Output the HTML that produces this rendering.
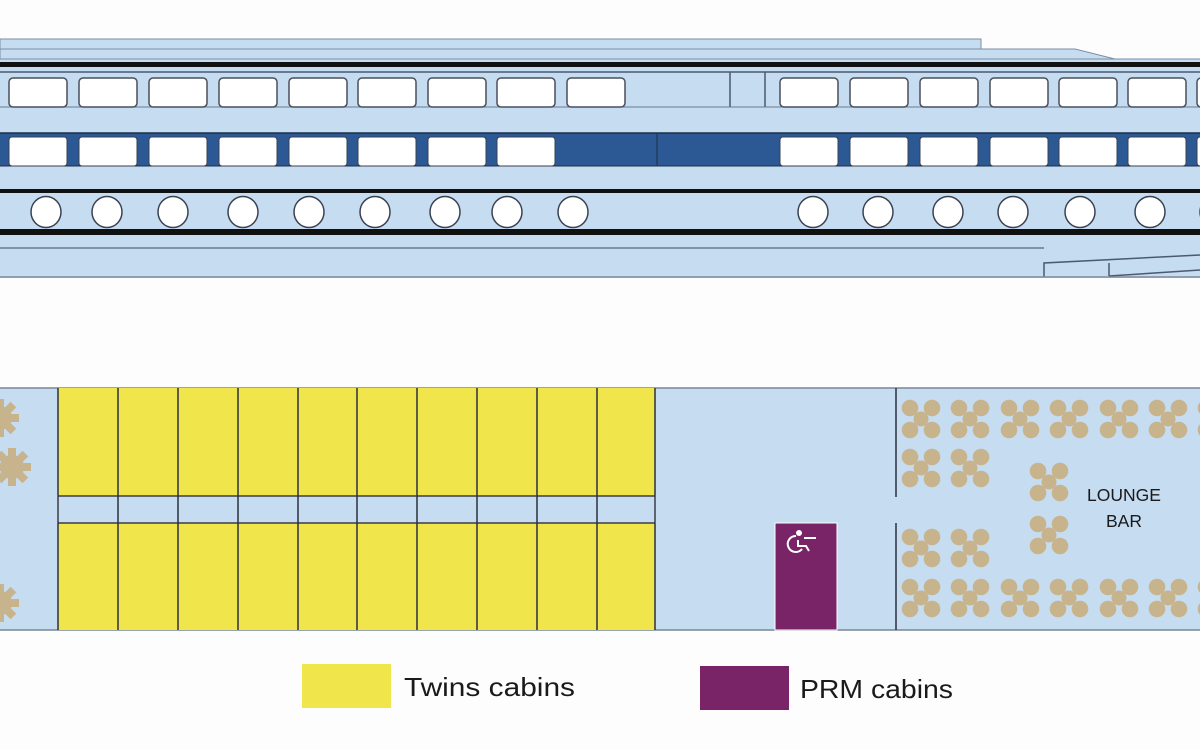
<!DOCTYPE html>
<html><head><meta charset="utf-8"><style>
html,body{margin:0;padding:0;background:#fdfdfd;}
svg{display:block;}
text{font-family:"Liberation Sans",sans-serif;}
</style></head><body>
<svg width="1200" height="750" viewBox="0 0 1200 750" xmlns="http://www.w3.org/2000/svg">
<defs>
<g id="tbl" fill="#c7b48c">
 <circle cx="-11" cy="-11" r="8.3"/><circle cx="11" cy="-11" r="8.3"/>
 <circle cx="-11" cy="11" r="8.3"/><circle cx="11" cy="11" r="8.3"/>
 <circle cx="0" cy="0" r="7.5"/>
</g>
<g id="gear" fill="#c7b48c">
 <circle r="12"/>
 <rect x="-4" y="-19" width="8" height="8"/><rect x="-4" y="11" width="8" height="8"/>
 <rect x="-19" y="-4" width="8" height="8"/><rect x="11" y="-4" width="8" height="8"/>
 <rect x="-4" y="-19" width="8" height="8" transform="rotate(45)"/><rect x="-4" y="11" width="8" height="8" transform="rotate(45)"/>
 <rect x="-19" y="-4" width="8" height="8" transform="rotate(45)"/><rect x="11" y="-4" width="8" height="8" transform="rotate(45)"/>
</g>
</defs>

<!-- SHIP PROFILE -->
<rect x="0" y="39" width="981" height="10" fill="#c6dcf1" stroke="#7d8fa3" stroke-width="1"/>
<polygon points="0,49 1075,49 1115,59 0,59" fill="#c6dcf1" stroke="#7d8fa3" stroke-width="1"/>
<rect x="0" y="59" width="1200" height="219" fill="#c6dcf1"/>
<line x1="0" y1="59" x2="1200" y2="59" stroke="#7d8fa3"/>
<rect x="0" y="62" width="1200" height="5" fill="#111"/>
<line x1="0" y1="72" x2="1200" y2="72" stroke="#4a5a70" stroke-width="1.5"/>
<line x1="730" y1="72" x2="730" y2="107" stroke="#4a5a70" stroke-width="1.5"/>
<line x1="765" y1="72" x2="765" y2="107" stroke="#4a5a70" stroke-width="1.5"/>
<line x1="0" y1="107" x2="1200" y2="107" stroke="#6a7a90" stroke-width="1"/>
<g fill="#fff" stroke="#4a4f5a" stroke-width="1.5">
 <rect x="9" y="78" width="58" height="29" rx="4"/>
 <rect x="79" y="78" width="58" height="29" rx="4"/>
 <rect x="149" y="78" width="58" height="29" rx="4"/>
 <rect x="219" y="78" width="58" height="29" rx="4"/>
 <rect x="289" y="78" width="58" height="29" rx="4"/>
 <rect x="358" y="78" width="58" height="29" rx="4"/>
 <rect x="428" y="78" width="58" height="29" rx="4"/>
 <rect x="497" y="78" width="58" height="29" rx="4"/>
 <rect x="567" y="78" width="58" height="29" rx="4"/>
 <rect x="780" y="78" width="58" height="29" rx="4"/>
 <rect x="850" y="78" width="58" height="29" rx="4"/>
 <rect x="920" y="78" width="58" height="29" rx="4"/>
 <rect x="990" y="78" width="58" height="29" rx="4"/>
 <rect x="1059" y="78" width="58" height="29" rx="4"/>
 <rect x="1128" y="78" width="58" height="29" rx="4"/>
 <rect x="1197" y="78" width="58" height="29" rx="4"/>
</g>
<rect x="0" y="133" width="1200" height="33" fill="#2c5893"/>
<line x1="0" y1="133" x2="1200" y2="133" stroke="#1d2f4a" stroke-width="1.5"/>
<line x1="0" y1="166" x2="1200" y2="166" stroke="#1d2f4a" stroke-width="1"/>
<line x1="657" y1="133" x2="657" y2="166" stroke="#1d2f4a" stroke-width="1"/>
<g fill="#fff" stroke="#3a4050" stroke-width="1">
 <rect x="9" y="137" width="58" height="29" rx="3"/>
 <rect x="79" y="137" width="58" height="29" rx="3"/>
 <rect x="149" y="137" width="58" height="29" rx="3"/>
 <rect x="219" y="137" width="58" height="29" rx="3"/>
 <rect x="289" y="137" width="58" height="29" rx="3"/>
 <rect x="358" y="137" width="58" height="29" rx="3"/>
 <rect x="428" y="137" width="58" height="29" rx="3"/>
 <rect x="497" y="137" width="58" height="29" rx="3"/>
 <rect x="780" y="137" width="58" height="29" rx="3"/>
 <rect x="850" y="137" width="58" height="29" rx="3"/>
 <rect x="920" y="137" width="58" height="29" rx="3"/>
 <rect x="990" y="137" width="58" height="29" rx="3"/>
 <rect x="1059" y="137" width="58" height="29" rx="3"/>
 <rect x="1128" y="137" width="58" height="29" rx="3"/>
 <rect x="1197" y="137" width="58" height="29" rx="3"/>
</g>
<rect x="0" y="189" width="1200" height="4" fill="#111"/>
<g fill="#fff" stroke="#3a4050" stroke-width="1.5">
 <ellipse cx="46" cy="212" rx="15" ry="15.5"/>
 <ellipse cx="107" cy="212" rx="15" ry="15.5"/>
 <ellipse cx="173" cy="212" rx="15" ry="15.5"/>
 <ellipse cx="243" cy="212" rx="15" ry="15.5"/>
 <ellipse cx="309" cy="212" rx="15" ry="15.5"/>
 <ellipse cx="375" cy="212" rx="15" ry="15.5"/>
 <ellipse cx="445" cy="212" rx="15" ry="15.5"/>
 <ellipse cx="507" cy="212" rx="15" ry="15.5"/>
 <ellipse cx="573" cy="212" rx="15" ry="15.5"/>
 <ellipse cx="813" cy="212" rx="15" ry="15.5"/>
 <ellipse cx="878" cy="212" rx="15" ry="15.5"/>
 <ellipse cx="948" cy="212" rx="15" ry="15.5"/>
 <ellipse cx="1013" cy="212" rx="15" ry="15.5"/>
 <ellipse cx="1080" cy="212" rx="15" ry="15.5"/>
 <ellipse cx="1150" cy="212" rx="15" ry="15.5"/>
 <ellipse cx="1215" cy="212" rx="15" ry="15.5"/>
</g>
<rect x="0" y="229" width="1200" height="6" fill="#111"/>
<line x1="0" y1="248" x2="1044" y2="248" stroke="#6a7a90" stroke-width="1.5"/>
<polyline points="1044,277 1044,263 1200,255" fill="none" stroke="#4a5a70" stroke-width="1.5"/>
<line x1="1109" y1="263" x2="1109" y2="276" stroke="#4a5a70" stroke-width="1.5"/>
<line x1="1109" y1="276" x2="1200" y2="270" stroke="#4a5a70" stroke-width="1.5"/>
<line x1="0" y1="277" x2="1200" y2="277" stroke="#7d8a9a" stroke-width="1.5"/>

<!-- DECK PLAN -->
<rect x="0" y="388" width="1200" height="242" fill="#c6dcf1"/>
<line x1="0" y1="388" x2="1200" y2="388" stroke="#7a8698" stroke-width="1.5"/>
<line x1="0" y1="630" x2="1200" y2="630" stroke="#7a8698" stroke-width="1.5"/>
<use href="#gear" x="0" y="418"/>
<use href="#gear" x="12" y="467"/>
<use href="#gear" x="0" y="603"/>
<rect x="58" y="388" width="597" height="108" fill="#f0e54a"/>
<rect x="58" y="523" width="597" height="107" fill="#f0e54a"/>
<rect x="58" y="496" width="597" height="27" fill="#c6dcf1" stroke="#fff" stroke-width="2"/>
<line x1="58" y1="496" x2="655" y2="496" stroke="#2a3040" stroke-width="1.5"/>
<line x1="58" y1="523" x2="655" y2="523" stroke="#2a3040" stroke-width="1.5"/>
<g stroke="#2a3040" stroke-width="1.5">
 <line x1="58" y1="388" x2="58" y2="630"/>
 <line x1="118" y1="388" x2="118" y2="630"/>
 <line x1="178" y1="388" x2="178" y2="630"/>
 <line x1="238" y1="388" x2="238" y2="630"/>
 <line x1="298" y1="388" x2="298" y2="630"/>
 <line x1="357" y1="388" x2="357" y2="630"/>
 <line x1="417" y1="388" x2="417" y2="630"/>
 <line x1="477" y1="388" x2="477" y2="630"/>
 <line x1="537" y1="388" x2="537" y2="630"/>
 <line x1="597" y1="388" x2="597" y2="630"/>
 <line x1="655" y1="388" x2="655" y2="630"/>
 <line x1="896" y1="388" x2="896" y2="497"/>
 <line x1="896" y1="523" x2="896" y2="630"/>
</g>
<rect x="775" y="523" width="62" height="107" fill="#7a2468" stroke="#fff" stroke-width="1"/>
<g fill="none" stroke="#fff" stroke-width="2">
 <path d="M796 536 a8 8 0 1 0 6 13"/>
 <path d="M798 540 v6 h8 l3 5 M804 538 h12"/>
 <circle cx="799" cy="533" r="2" fill="#fff"/>
</g>
<use href="#tbl" x="921" y="419"/><use href="#tbl" x="970" y="419"/><use href="#tbl" x="1020" y="419"/>
<use href="#tbl" x="1069" y="419"/><use href="#tbl" x="1119" y="419"/><use href="#tbl" x="1168" y="419"/><use href="#tbl" x="1217" y="419"/>
<use href="#tbl" x="921" y="468"/><use href="#tbl" x="970" y="468"/>
<use href="#tbl" x="1049" y="482"/><use href="#tbl" x="1049" y="535"/>
<use href="#tbl" x="921" y="548"/><use href="#tbl" x="970" y="548"/>
<use href="#tbl" x="921" y="598"/><use href="#tbl" x="970" y="598"/><use href="#tbl" x="1020" y="598"/>
<use href="#tbl" x="1069" y="598"/><use href="#tbl" x="1119" y="598"/><use href="#tbl" x="1168" y="598"/><use href="#tbl" x="1217" y="598"/>
<text x="1124" y="501" font-size="17.5" text-anchor="middle" fill="#1a1a1a">LOUNGE</text>
<text x="1124" y="527" font-size="17.5" text-anchor="middle" fill="#1a1a1a">BAR</text>

<rect x="302" y="664" width="89" height="44" fill="#f0e54a"/>
<text x="404" y="696" font-size="26" fill="#1a1a1a" textLength="171" lengthAdjust="spacingAndGlyphs">Twins cabins</text>
<rect x="700" y="666" width="89" height="44" fill="#7a2468"/>
<text x="800" y="698" font-size="26" fill="#1a1a1a" textLength="153" lengthAdjust="spacingAndGlyphs">PRM cabins</text>
</svg>
</body></html>
